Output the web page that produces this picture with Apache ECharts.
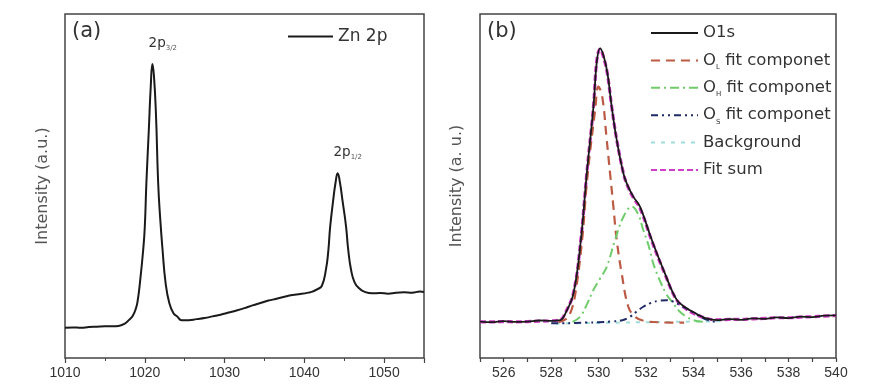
<!DOCTYPE html>
<html>
<head>
<meta charset="utf-8">
<script src="https://cdn.jsdelivr.net/npm/echarts@6/dist/echarts.min.js"></script>
<style>html,body{margin:0;padding:0;background:#fff}#c{width:881px;height:392px}</style>
</head>
<body>
<div id="c"></div>
<script>
// ---------- Panel (a): Zn 2p ----------
const znX = [1010,1011,1012,1013,1014,1015,1016,1016.7,1017.5,1018.0,1018.5,1018.9,1019.1,1019.4,1019.8,1020.0,1020.2,1020.5,1020.75,1020.96,1021.15,1021.4,1021.68,1021.95,1022.23,1022.6,1023.08,1023.6,1024.1,1024.6,1025.5,1026.5,1027.5,1028.5,1029.5,1030.5,1031.5,1032.5,1033.5,1034.5,1035.5,1036.5,1037.5,1038.5,1039.5,1040.5,1041.0,1041.65,1042.2,1042.7,1043.0,1043.24,1043.6,1043.9,1044.18,1044.45,1044.8,1045.23,1045.5,1045.86,1046.3,1046.9,1047.5,1048.5,1049.5,1050.5,1051.5,1052.5,1053.5,1054.5,1055];
const znY = [8.8,8.9,8.8,9.0,9.1,9.2,9.2,9.3,10.0,11.0,12.3,14.5,16.5,22,31.4,38,50.8,66,79,85.5,82,71,50.8,40,31.4,22,15.9,13,12,11,11.0,11.3,11.6,12.1,12.6,13.2,13.8,14.5,15.3,16.0,16.7,17.2,17.8,18.3,18.6,19.0,19.3,20.0,21.0,25.6,31,38.2,45.5,50.8,53.7,51.2,45.5,38.2,31.5,25.6,22,20.2,19.3,18.8,18.9,18.7,19.0,19.1,19.0,19.3,19.2];
const peakA = [[1021.0, 85.5, '3/2'], [1044.18, 53.7, '1/2']];

// ---------- Panel (b): O 1s ----------
const o1sX = [525,525.5,526,526.5,527,527.5,528,528.38,528.6,528.94,529.25,529.5,529.78,529.92,530.06,530.2,530.37,530.55,530.76,531.04,531.2,531.46,531.74,532.24,532.79,533.29,533.7,534.0,534.5,535,535.5,536,536.5,537,537.5,538,538.5,539,539.5,540];
const o1sY = [10.6,10.4,10.7,10.5,10.6,10.9,10.8,11.0,13.0,18.8,34.3,53.7,73,86,90,88,82.8,73,63.4,53.7,50.5,46.9,44,34.3,24.6,16.9,14.5,13.3,11.6,11.0,11.3,11.1,11.5,11.4,11.8,11.6,12.0,11.9,12.3,12.4];
const olX = [528.3,528.6,528.8,529.0,529.29,529.53,529.85,529.99,530.15,530.34,530.48,530.62,530.76,530.97,531.25,531.53,531.9,532.5,533.0,533.6];
const olY = [10.4,11.2,13,18.0,33.5,53.0,72,78.9,76,63.4,53.7,44,34.3,24.6,14.9,12.0,10.8,10.4,10.3,10.3];
const onX = [528.9,529.22,529.5,529.78,530.05,530.34,530.69,531.04,531.4,531.65,531.88,532.09,532.3,532.58,532.85,533.14,533.4,533.7,534.0,534.4];
const onY = [10.5,12,15.5,19.8,23,26.5,34.3,41,44,42,37.2,33,27.5,22.5,18.6,15.9,13.6,12,11,10.5];
const osX = [528.0,528.5,529.0,529.5,530.0,530.5,531.0,531.32,531.6,531.88,532.2,532.58,532.85,533.14,533.4,533.7,534.0,534.27,534.6,535.0];
const osY = [10.1,10.1,10.2,10.3,10.4,10.6,11.0,12.0,13.5,14.9,16.0,16.7,16.8,16.4,15.5,14.4,13.2,12.0,11.0,10.4];
const bgX = [528.2,529,530,531,532,533,534,535.2];
const bgY = [10.0,10.1,10.2,10.3,10.4,10.5,10.6,10.7];
const fsX = o1sX;
const fsY = [10.5,10.5,10.6,10.5,10.6,10.7,10.8,11.1,13.2,19.0,34.5,53.8,73,86.5,89.8,87.5,82.5,73,63.5,53.8,50.3,46.6,43.6,34.0,24.4,16.8,14.2,13.0,11.6,11.1,11.2,11.2,11.4,11.5,11.7,11.7,11.9,12.0,12.2,12.3];

const zip = (xs, ys) => xs.map((x, i) => [x, ys[i]]);
const FONT = 'DejaVu Sans';

const chart = echarts.init(document.getElementById('c'), null, {renderer: 'canvas'});

const gridStyle = {show: true, borderColor: '#444', borderWidth: 1.5, backgroundColor: '#fff'};
const lbl = {color: '#333', fontFamily: 'Liberation Sans', fontSize: 14, margin: 8, formatter: v => String(v)};

const legendRich = {
  m: {fontSize: 16.5, fontFamily: FONT, color: '#333', lineHeight: 20, verticalAlign: 'middle'},
  s: {fontSize: 7, fontFamily: FONT, color: '#333', lineHeight: 8, verticalAlign: 'bottom'}
};
const legendNames = {
  'O1s': 'O1s',
  'OL fit componet': '{m|O}{s|L}{m| fit componet}',
  'OH fit componet': '{m|O}{s|H}{m| fit componet}',
  'OS fit componet': '{m|O}{s|S}{m| fit componet}',
  'Background': 'Background',
  'Fit sum': 'Fit sum'
};

const option = {
  animation: false,
  backgroundColor: '#fff',
  title: [
    {text: '(a)', left: 72, top: 21, padding: 0, textStyle: {fontSize: 21, fontWeight: 'normal', color: '#333', fontFamily: FONT}},
    {text: '(b)', left: 487, top: 21, padding: 0, textStyle: {fontSize: 21, fontWeight: 'normal', color: '#333', fontFamily: FONT}}
  ],
  grid: [
    Object.assign({left: 65, top: 14, width: 359, height: 344}, gridStyle),
    Object.assign({left: 480, top: 14, width: 356, height: 344}, gridStyle)
  ],
  legend: [
    {
      data: ['Zn 2p'], left: 287, top: 28, padding: 0, itemWidth: 45, itemHeight: 14,
      itemStyle: {opacity: 0},
      textStyle: {fontSize: 17, color: '#333', fontFamily: FONT}
    },
    {
      data: ['O1s', 'OL fit componet', 'OH fit componet', 'OS fit componet', 'Background', 'Fit sum'],
      orient: 'vertical', left: 650, top: 23, padding: 0, itemWidth: 47, itemHeight: 14, itemGap: 7.4,
      itemStyle: {opacity: 0},
      formatter: n => legendNames[n],
      textStyle: {fontSize: 16.5, color: '#333', fontFamily: FONT, lineHeight: 20, rich: legendRich}
    }
  ],
  xAxis: [
    {
      type: 'value', gridIndex: 0, min: 1010, max: 1055, interval: 10,
      axisLine: {show: false}, splitLine: {show: false},
      axisTick: {show: true, length: 5, lineStyle: {color: '#444', width: 1.2}},
      minorTick: {show: true, splitNumber: 2, length: 3, lineStyle: {color: '#444'}},
      axisLabel: Object.assign({}, lbl, {showMaxLabel: false})
    },
    {
      type: 'value', gridIndex: 1, min: 525, max: 540, interval: 1,
      axisLine: {show: false}, splitLine: {show: false},
      axisTick: {show: true, length: 4, lineStyle: {color: '#444', width: 1.2}},
      axisLabel: Object.assign({}, lbl, {formatter: v => (v % 2 === 0 ? String(v) : '')})
    }
  ],
  yAxis: [
    {
      type: 'value', gridIndex: 0, min: 0, max: 100,
      axisLine: {show: false}, axisTick: {show: false}, axisLabel: {show: false}, splitLine: {show: false},
      name: 'Intensity (a.u.)', nameLocation: 'middle', nameGap: 14,
      nameTextStyle: {fontSize: 16, color: '#555', fontFamily: FONT}
    },
    {
      type: 'value', gridIndex: 1, min: 0, max: 100,
      axisLine: {show: false}, axisTick: {show: false}, axisLabel: {show: false}, splitLine: {show: false},
      name: 'Intensity (a. u.)', nameLocation: 'middle', nameGap: 15,
      nameTextStyle: {fontSize: 16, color: '#555', fontFamily: FONT}
    }
  ],
  series: [
    {
      name: 'Zn 2p', type: 'line', xAxisIndex: 0, yAxisIndex: 0, data: zip(znX, znY),
      symbol: 'none', smooth: 0.5, lineStyle: {color: '#1a1a1a', width: 2}, itemStyle: {color: '#1a1a1a'},
      markPoint: {
        symbol: 'circle', symbolSize: 0, silent: true,
        label: {
          show: true, position: 'inside', color: '#333',
          rich: {
            a: {fontSize: 13.5, fontFamily: FONT, color: '#333', lineHeight: 16, verticalAlign: 'middle'},
            b: {fontSize: 7, fontFamily: FONT, color: '#555', lineHeight: 8, verticalAlign: 'bottom'}
          }
        },
        data: peakA.map((p, i) => ({
          coord: [p[0], p[1]],
          label: {formatter: '{a|2p}{b|' + p[2] + '}', offset: i === 0 ? [10, -20] : [10, -21]}
        }))
      }
    },
    {
      name: 'Fit sum', type: 'line', xAxisIndex: 1, yAxisIndex: 1, data: zip(fsX, fsY), z: 2,
      symbol: 'none', smooth: 0.4, lineStyle: {color: '#d23cc8', width: 3.2, type: [6, 3]}, itemStyle: {color: '#d23cc8'}
    },
    {
      name: 'Background', type: 'line', xAxisIndex: 1, yAxisIndex: 1, data: zip(bgX, bgY), z: 2,
      symbol: 'none', smooth: 0.4, lineStyle: {color: '#9fdcdc', width: 2, type: [4, 6]}, itemStyle: {color: '#9fdcdc'}
    },
    {
      name: 'OL fit componet', type: 'line', xAxisIndex: 1, yAxisIndex: 1, data: zip(olX, olY), z: 3,
      symbol: 'none', smooth: 0.4, lineStyle: {color: '#bd5a44', width: 2.2, type: [9, 6]}, itemStyle: {color: '#bd5a44'}
    },
    {
      name: 'OH fit componet', type: 'line', xAxisIndex: 1, yAxisIndex: 1, data: zip(onX, onY), z: 3,
      symbol: 'none', smooth: 0.4, lineStyle: {color: '#6fcc6a', width: 2, type: [9, 4, 2, 4]}, itemStyle: {color: '#6fcc6a'}
    },
    {
      name: 'OS fit componet', type: 'line', xAxisIndex: 1, yAxisIndex: 1, data: zip(osX, osY), z: 3,
      symbol: 'none', smooth: 0.4, lineStyle: {color: '#1f2a66', width: 2, type: [7, 4, 2, 4, 2, 4]}, itemStyle: {color: '#1f2a66'}
    },
    {
      name: 'O1s', type: 'line', xAxisIndex: 1, yAxisIndex: 1, data: zip(o1sX, o1sY), z: 4,
      symbol: 'none', smooth: 0.4, lineStyle: {color: '#1a1a1a', width: 1.8}, itemStyle: {color: '#1a1a1a'}
    }
  ]
};
chart.setOption(option);
</script>
</body>
</html>
